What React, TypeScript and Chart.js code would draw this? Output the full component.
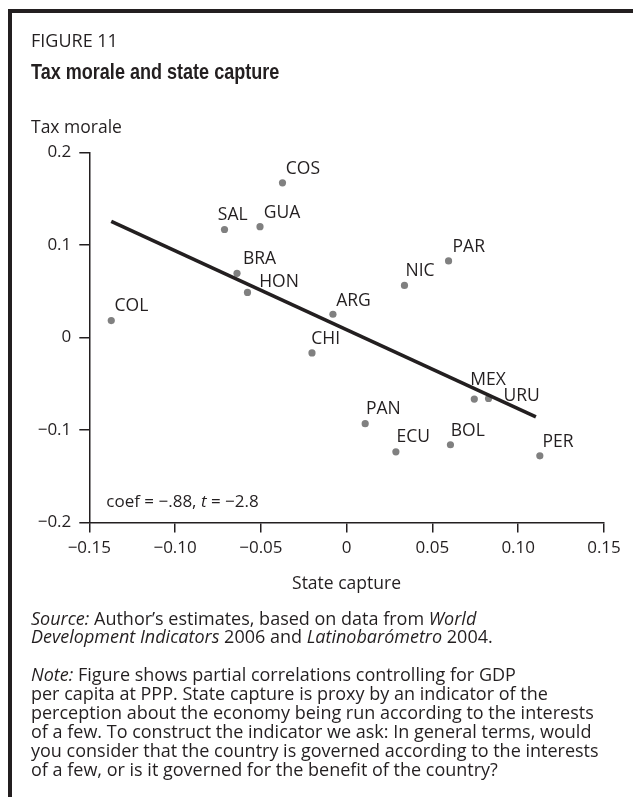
import React, { useEffect, useRef } from "react";
import { Chart, registerables } from "chart.js";

Chart.register(...registerables);

// ---------- data ----------
const countries = ["COS", "SAL", "GUA", "BRA", "HON", "COL", "ARG", "CHI", "PAR", "NIC", "MEX", "URU", "PAN", "ECU", "BOL", "PER"];
const stateCapture = [-0.0374, -0.0712, -0.0505, -0.0639, -0.0578, -0.1372, -0.008, -0.0202, 0.0594, 0.0337, 0.0744, 0.0827, 0.0108, 0.0287, 0.0605, 0.1126];
const taxMorale = [0.167, 0.1166, 0.1196, 0.0692, 0.0486, 0.0182, 0.025, -0.0168, 0.0826, 0.0562, -0.0666, -0.066, -0.0932, -0.1236, -0.116, -0.128];
const fitX = [-0.1372, 0.1103];
const fitY = [0.1253, -0.0859];
const xTicks = [-0.15, -0.1, -0.05, 0, 0.05, 0.1, 0.15];
const xTickLabels = ["\u22120.15", "\u22120.10", "\u22120.05", "0", "0.05", "0.10", "0.15"];
const yTicks = [-0.2, -0.1, 0, 0.1, 0.2];
const yTickLabels = ["\u22120.2", "\u22120.1", "0", "0.1", "0.2"];

// label placement relative to each dot (px): [dx, dy to baseline]
const labelOffsets: [number, number][] = [
  [3.3, -8.7], [-6.7, -9.7], [3.7, -8.7], [6, -9.3], [11.7, -5.7], [3.3, -9.3], [3.3, -8.3], [-0.7, -9],
  [4, -8.7], [1, -9.3], [-4, -14.3], [15, 2.3], [0.7, -9.3], [0.7, -9.7], [0.3, -8.7], [2.7, -8.7],
];

const INK = "#231f20";
const SANS = "'Open Sans', 'Noto Sans', sans-serif";
const NARROW = "'Liberation Sans', Arial, sans-serif";

const pointLabels = {
  id: "pointLabels",
  afterDatasetsDraw(chart: any) {
    const ctx = chart.ctx;
    const meta = chart.getDatasetMeta(1);
    ctx.save();
    ctx.fillStyle = INK;
    ctx.font = `17.5px ${SANS}`;
    ctx.textAlign = "left";
    ctx.textBaseline = "alphabetic";
    meta.data.forEach((el: any, i: number) => {
      const [dx, dy] = labelOffsets[i];
      ctx.fillText(countries[i], el.x + dx, el.y + dy);
    });
    // coefficient annotation
    const area = chart.chartArea;
    let x = area.left + 17;
    const y = area.bottom - 15.5;
    const runs: [string, boolean][] = [["coef = \u2212.88, ", false], ["t", true], [" = \u22122.8", false]];
    runs.forEach(([s, it]) => {
      ctx.font = `${it ? "italic " : ""}17px ${SANS}`;
      ctx.fillText(s, x, y);
      x += ctx.measureText(s).width;
    });
    ctx.restore();
  },
};

function ScatterChart() {
  const ref = useRef<HTMLCanvasElement>(null);
  useEffect(() => {
    if (!ref.current) return;
    const chart = new Chart(ref.current, {
      type: "scatter",
      data: {
        datasets: [
          {
            type: "line",
            data: fitX.map((x, i) => ({ x, y: fitY[i] })),
            borderColor: INK,
            borderWidth: 3.6,
            pointRadius: 0,
            fill: false,
          } as any,
          {
            data: stateCapture.map((x, i) => ({ x, y: taxMorale[i] })),
            backgroundColor: "#808080",
            borderWidth: 0,
            pointRadius: 3.6,
          },
        ],
      },
      options: {
        animation: false,
        responsive: false,
        devicePixelRatio: 1,
        layout: { padding: { left: 0, right: 29, top: 152.3, bottom: 234.5 } },
        plugins: { legend: { display: false }, tooltip: { enabled: false } },
        scales: {
          x: {
            type: "linear",
            min: -0.15,
            max: 0.15,
            afterBuildTicks: (s: any) => { s.ticks = xTicks.map((v) => ({ value: v })); },
            afterFit: (s: any) => { s.height = 40; },
            ticks: {
              callback: (_v: any, i: number) => xTickLabels[i],
              color: INK,
              font: { family: SANS, size: 17 },
              padding: 5,
              maxRotation: 0,
            },
            grid: { drawOnChartArea: false, drawTicks: true, tickLength: 10, color: INK, lineWidth: 1.5 },
            border: { display: true, color: INK, width: 1.5 },
          },
          y: {
            type: "linear",
            min: -0.2,
            max: 0.2,
            afterBuildTicks: (s: any) => { s.ticks = yTicks.map((v) => ({ value: v })); },
            afterFit: (s: any) => { s.width = 89.3; },
            ticks: {
              callback: (_v: any, i: number) => yTickLabels[i],
              color: INK,
              font: { family: SANS, size: 17 },
              padding: 8,
            },
            grid: { drawOnChartArea: false, drawTicks: true, tickLength: 10, color: INK, lineWidth: 1.5 },
            border: { display: true, color: INK, width: 1.5 },
          },
        },
      },
      plugins: [pointLabels],
    });
    return () => chart.destroy();
  }, []);
  return <canvas ref={ref} width={633} height={797} style={{ position: "absolute", left: 0, top: 0, width: 633, height: 797 }} />;
}

function Line(props: { x: number; base: number; size: number; narrow?: boolean; bold?: boolean; center?: boolean; children: any }) {
  const k = props.narrow ? 0.905 : 0.888;
  let transform: string | undefined = undefined;
  if (props.center) transform = "translateX(-50%)";
  if (props.narrow) transform = "scaleX(0.82)";
  return (
    <div
      style={{
        position: "absolute",
        left: props.x,
        top: props.base - k * props.size,
        fontSize: props.size,
        lineHeight: `${props.size}px`,
        fontFamily: props.narrow ? NARROW : SANS,
        fontWeight: props.bold ? 700 : 400,
        color: INK,
        whiteSpace: "nowrap",
        transform,
        transformOrigin: "left center",
      }}
    >
      {props.children}
    </div>
  );
}

export default function App() {
  const L = 31;
  const fs = 18;
  return (
    <div style={{ position: "absolute", left: 0, top: 0, width: 633, height: 797, overflow: "hidden", background: "#fff" }}>
      <div style={{ position: "absolute", left: 8, top: 9, width: 640, height: 800, borderTop: `4px solid ${INK}`, borderLeft: `4px solid ${INK}` }} />
      <ScatterChart />
      <Line x={L} base={47} size={18}>FIGURE 11</Line>
      <Line x={L} base={81} size={22} narrow bold>Tax morale and state capture</Line>
      <Line x={L} base={134} size={17.5}>Tax morale</Line>
      <Line x={346.5} base={590} size={17.5} center>State capture</Line>
      <Line x={L} base={624.5} size={fs}><i>Source:</i> Author’s estimates, based on data from <i>World</i></Line>
      <Line x={L} base={643} size={fs}><i>Development Indicators</i> 2006 and <i>Latinobarómetro</i> 2004.</Line>
      <Line x={L} base={681} size={fs}><i>Note:</i> Figure shows partial correlations controlling for GDP</Line>
      <Line x={L} base={700} size={fs}>per capita at PPP. State capture is proxy by an indicator of the</Line>
      <Line x={L} base={719} size={fs}>perception about the economy being run according to the interests</Line>
      <Line x={L} base={738} size={fs}>of a few. To construct the indicator we ask: In general terms, would</Line>
      <Line x={L} base={757} size={fs}>you consider that the country is governed according to the interests</Line>
      <Line x={L} base={776} size={fs}>of a few, or is it governed for the benefit of the country?</Line>
    </div>
  );
}
